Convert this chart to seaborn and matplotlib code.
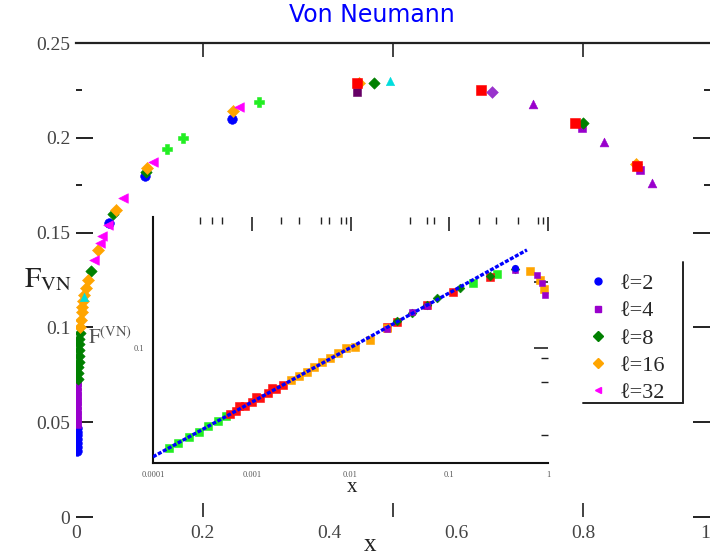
import matplotlib
matplotlib.use("Agg")
import matplotlib.pyplot as plt
from matplotlib.lines import Line2D
from matplotlib.ticker import FixedLocator, NullFormatter
import seaborn as sns

# ---- main panel: F_VN against x ----
l2_x = [0.002, 0.002, 0.002, 0.002, 0.002, 0.002, 0.002, 0.052, 0.109, 0.246]
l2_y = [0.035, 0.037, 0.039, 0.041, 0.043, 0.045, 0.047, 0.155, 0.180, 0.210]

l4_x = [0.002, 0.002, 0.002, 0.002, 0.002, 0.002, 0.002, 0.002, 0.002, 0.002, 0.798, 0.890]
l4_y = [0.049, 0.051, 0.054, 0.056, 0.059, 0.061, 0.064, 0.066, 0.069, 0.071, 0.205, 0.183]

l8_x = [0.003, 0.003, 0.003, 0.004, 0.004, 0.004, 0.005, 0.005, 0.006, 0.024, 0.058, 0.110, 0.470, 0.800]
l8_y = [0.073, 0.076, 0.079, 0.082, 0.085, 0.088, 0.091, 0.094, 0.097, 0.130, 0.160, 0.182, 0.229, 0.208]

l16_x = [0.007, 0.008, 0.009, 0.0095, 0.011, 0.013, 0.016, 0.019, 0.035, 0.063, 0.112, 0.248, 0.447, 0.883]
l16_y = [0.100, 0.104, 0.108, 0.111, 0.114, 0.117, 0.121, 0.125, 0.141, 0.162, 0.184, 0.214, 0.229, 0.186]

l32_x = [0.028, 0.038, 0.041, 0.050, 0.074, 0.121, 0.257]
l32_y = [0.1355, 0.1445, 0.148, 0.154, 0.168, 0.187, 0.216]

lime_x = [0.144, 0.169, 0.289]
lime_y = [0.194, 0.200, 0.219]
red_x = [0.443, 0.639, 0.787, 0.885]
red_y = [0.229, 0.225, 0.208, 0.185]
plum_x = [0.443]
plum_y = [0.224]
vtri_x = [0.721, 0.833, 0.908]
vtri_y = [0.218, 0.198, 0.176]
vdia_x = [0.656]
vdia_y = [0.224]
cyan_x = [0.013, 0.495]
cyan_y = [0.116, 0.230]

# ---- inset: log-log ----
fit_x = [1e-4, 0.612]
fit_y = [0.0318, 0.280]

in_lime_x = [1.45e-4, 1.8e-4, 2.3e-4, 2.9e-4, 3.6e-4, 4.5e-4, 5.5e-4, 0.174, 0.305]
in_lime_y = [0.0349, 0.0368, 0.0392, 0.0415, 0.0438, 0.0463, 0.0487, 0.198, 0.218]
in_red_x = [6e-4, 7e-4, 7.5e-4, 8.5e-4, 1.0e-3, 1.1e-3, 1.2e-3, 1.45e-3, 1.6e-3, 1.75e-3, 2.07e-3,
            0.0234, 0.0296, 0.0596, 0.109, 0.259]
in_red_y = [0.0497, 0.0517, 0.0540, 0.0543, 0.0566, 0.0595, 0.0592, 0.0621, 0.0655, 0.0651, 0.0678,
            0.125, 0.1315, 0.157, 0.180, 0.211]
in_orange_x = [2.5e-3, 3e-3, 3.6e-3, 4.3e-3, 5.2e-3, 6.2e-3, 7.5e-3, 9e-3, 0.0111, 0.0158, 0.0234,
               0.658, 0.830, 0.910]
in_orange_y = [0.0711, 0.0744, 0.0780, 0.0817, 0.0860, 0.0901, 0.0949, 0.0995, 0.101, 0.109, 0.1234,
               0.225, 0.2046, 0.186]
in_green_x = [0.0296, 0.042, 0.0596, 0.0752, 0.128, 0.259, 0.464]
in_green_y = [0.132, 0.1444, 0.157, 0.169, 0.188, 0.212, 0.230]
in_purple_x = [0.0234, 0.042, 0.0596, 0.464, 0.774, 0.869, 0.933]
in_purple_y = [0.122, 0.146, 0.155, 0.227, 0.2155, 0.198, 0.1745]
in_blue_x = [0.464]
in_blue_y = [0.231]

legend_labels = ["\u2113=2", "\u2113=4", "\u2113=8", "\u2113=16", "\u2113=32"]
legend_colors = ["#0000ff", "#9900cc", "#008000", "#ffa500", "#ff00ff"]
legend_markers = ["o", "s", "D", "D", "<"]

sns.set_style("white")
plt.rcParams["font.family"] = ["Liberation Serif", "DejaVu Serif"]
plt.rcParams["mathtext.fontset"] = "stix"

fig = plt.figure(figsize=(7.1, 5.59), dpi=100)
W, H = 710, 559
ax = fig.add_axes([76 / W, 1 - 517 / H, 634 / W, 474 / H])


def pts(axis, x, y, color, marker, size):
    sns.scatterplot(x=x, y=y, ax=axis, color=color, marker=marker, s=size,
                    edgecolor=color, linewidth=0.4, legend=False, zorder=3)


pts(ax, l2_x, l2_y, "#0000ff", "o", 48)
pts(ax, l4_x, l4_y, "#9900cc", "s", 40)
pts(ax, l8_x, l8_y, "#008000", "D", 34)
pts(ax, l16_x, l16_y, "#ffa500", "D", 38)
pts(ax, l32_x, l32_y, "#ff00ff", "<", 48)
pts(ax, lime_x, lime_y, "#22ee22", "P", 44)
pts(ax, plum_x, plum_y, "#660066", "s", 40)
pts(ax, red_x, red_y, "#ff0000", "s", 60)
pts(ax, vtri_x, vtri_y, "#9900cc", "^", 40)
pts(ax, vdia_x, vdia_y, "#9933cc", "D", 36)
pts(ax, cyan_x, cyan_y, "#00dddd", "^", 36)

ax.set_xlim(0, 1)
ax.set_ylim(0, 0.25)
for s in ["left", "right", "bottom"]:
    ax.spines[s].set_visible(False)
ax.spines["top"].set_linewidth(1.6)
ax.spines["top"].set_color("#222222")
ax.xaxis.remove_overlapping_locs = False
ax.set_xticks([0, 0.2, 0.4, 0.6, 0.8, 1])
ax.set_xticklabels(["0", "0.2", "0.4", "0.6", "0.8", "1"])
ax.get_xticklabels()[-1].set_horizontalalignment("right")
ax.set_xticks([0.2, 0.5, 0.8], minor=True)
ax.set_yticks([0, 0.05, 0.1, 0.15, 0.2, 0.25])
ax.set_yticklabels(["0", "0.05", "0.1", "0.15", "0.2", "0.25"])
ax.set_yticks([0.175, 0.225], minor=True)
ax.tick_params(axis="x", which="major", length=0, pad=6, labelsize=14, labelcolor="#444444")
ax.tick_params(axis="x", which="minor", direction="in", length=10, width=1.2,
               top=True, bottom=True, color="#222222")
ax.tick_params(axis="y", which="major", direction="in", length=12, width=1.4,
               left=True, right=True, labelsize=14, labelcolor="#444444", pad=4, color="#222222")
ax.tick_params(axis="y", which="minor", direction="in", length=4, width=1.4,
               left=True, right=True, color="#222222")

fig.text(0.068, 0.50, r"$\mathrm{F}_{\mathrm{VN}}$", fontsize=21, ha="center", va="center", color="#222222")
fig.text(370 / W, 1 - 545 / H, "x", fontsize=18, ha="center", va="center", color="#222222")
fig.text(372 / W, 1 - 15 / H, "Von Neumann", fontsize=17, color="#0000ff",
         family="DejaVu Sans", ha="center", va="center")

# legend with right/bottom border only
handles = [Line2D([], [], linestyle="none", marker=m, color=c, markersize=5)
           for m, c in zip(legend_markers, legend_colors)]
fig.legend(handles, legend_labels, loc="upper left", bbox_to_anchor=(571 / W, 1 - 258 / H),
           frameon=False, fontsize=16, handlelength=1.0, handletextpad=0.5,
           labelspacing=0.3, borderpad=0.2)
fig.add_artist(Line2D([683 / W, 683 / W], [1 - 262 / H, 1 - 403 / H], color="#222222", lw=1.4))
fig.add_artist(Line2D([583 / W, 683 / W], [1 - 403 / H, 1 - 403 / H], color="#222222", lw=1.4))

# ---- inset ----
ins = fig.add_axes([153 / W, 1 - 463 / H, 395 / W, 246 / H])
ins.set_xscale("log")
ins.set_yscale("log")
sns.lineplot(x=fit_x, y=fit_y, ax=ins, color="#0000ff", lw=2.4, linestyle=(0, (1.2, 0.5)), zorder=4)
pts(ins, in_lime_x, in_lime_y, "#22ee22", "s", 26)
pts(ins, in_red_x, in_red_y, "#ff1010", "s", 32)
pts(ins, in_orange_x, in_orange_y, "#ffa500", "s", 30)
pts(ins, in_green_x, in_green_y, "#008000", "D", 20)
pts(ins, in_purple_x, in_purple_y, "#9900cc", "s", 20)
pts(ins, in_blue_x, in_blue_y, "#0000ff", "o", 22)
ins.set_xlim(1e-4, 1)
ins.set_ylim(0.0298, 0.396)
ins.patch.set_alpha(0)
for s in ["top", "right"]:
    ins.spines[s].set_visible(False)
for s in ["left", "bottom"]:
    ins.spines[s].set_linewidth(1.5)
    ins.spines[s].set_color("#111111")
ins.xaxis.set_major_locator(FixedLocator([1e-4, 1e-3, 1e-2, 1e-1, 1]))
ins.set_xticklabels(["0.0001", "0.001", "0.01", "0.1", "1"])
ins.xaxis.set_minor_locator(FixedLocator([3e-4, 4e-4, 5e-4, 2e-3, 3e-3, 5e-3, 6e-3, 8e-3, 9e-3,
                                          4e-2, 6e-2, 7e-2, 0.2, 0.3, 0.5, 0.8, 0.9]))
ins.xaxis.set_minor_formatter(NullFormatter())
ins.yaxis.set_major_locator(FixedLocator([0.1, 0.2]))
ins.set_yticklabels(["0.1", ""])
ins.yaxis.set_minor_locator(FixedLocator([0.04, 0.07, 0.09]))
ins.yaxis.set_minor_formatter(NullFormatter())
ins.tick_params(which="major", direction="in", length=10, width=1.2, top=True, right=True,
                labelsize=6, labelcolor="#555555", pad=6, color="#222222")
ins.tick_params(which="minor", direction="in", length=5, width=1.0, top=True, right=True,
                color="#222222")
ins.set_xlabel("")
ins.set_ylabel("")
fig.text(352 / W, 1 - 488 / H, "x", fontsize=15, ha="center", va="center", color="#222222")
fig.text(110 / W, 1 - 338 / H, r"$\mathrm{F}^{(\mathrm{VN})}$", fontsize=15, ha="center",
         va="center", color="#555555")

fig.savefig("out.png", dpi=100)
